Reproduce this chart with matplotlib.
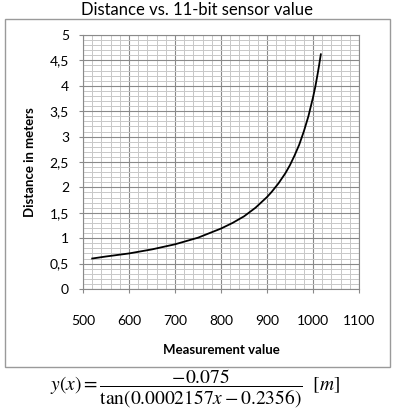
import matplotlib
matplotlib.use("Agg")
import matplotlib.pyplot as plt
from matplotlib.patches import Rectangle
from matplotlib.ticker import MultipleLocator, FuncFormatter

plt.rcParams['font.family'] = ['Lato', 'DejaVu Sans']
plt.rcParams['mathtext.fontset'] = 'stix'

# values
measurement = [520, 550, 600, 650, 700, 750, 800, 825, 850, 875, 900, 910,
               925, 940, 950, 960, 970, 980, 990, 1000, 1005, 1010, 1013, 1017]
distance = [0.60, 0.64, 0.70, 0.78, 0.88, 1.01, 1.19, 1.30, 1.43, 1.60,
            1.81, 1.91, 2.08, 2.28, 2.44, 2.63, 2.84, 3.10, 3.40, 3.77,
            3.98, 4.23, 4.39, 4.62]

title = "Distance vs. 11-bit sensor value"
xlabel = "Measurement value"
ylabel = "Distance in meters"
formula = r"$y(x)=\dfrac{-0.075}{\tan(0.0002157x-0.2356)}\ \ [m]$"

W, H = 394, 412
fig = plt.figure(figsize=(W / 100, H / 100), dpi=100)
ax = fig.add_axes([83 / W, 1 - 289 / H, 276 / W, 254 / H])

# outer chart border (Excel style)
fig.patches.append(Rectangle((5 / W, 1 - 367 / H), 385 / W, 348 / H,
                             transform=fig.transFigure, fill=False,
                             edgecolor="#9a9a9a", linewidth=1.0))

ax.plot(measurement, distance, color="black", linewidth=1.3, zorder=3)

ax.set_xlim(500, 1100)
ax.set_ylim(0, 5)
ax.xaxis.set_major_locator(MultipleLocator(100))
ax.xaxis.set_minor_locator(MultipleLocator(20))
ax.yaxis.set_major_locator(MultipleLocator(0.5))
ax.yaxis.set_minor_locator(MultipleLocator(0.1))
ax.yaxis.set_major_formatter(FuncFormatter(lambda v, p: f"{v:g}".replace(".", ",")))

ax.grid(which="major", color="#8a8a8a", linewidth=0.8)
ax.grid(which="minor", color="#c8c8c8", linewidth=0.7)
ax.set_axisbelow(True)
for s in ax.spines.values():
    s.set_color("#8a8a8a")
    s.set_linewidth(0.8)

ax.tick_params(which="major", length=3, color="#8a8a8a", labelsize=10)
ax.tick_params(which="minor", length=0)
ax.tick_params(axis="x", pad=16)
ax.tick_params(axis="y", pad=7)

ax.set_xlabel(xlabel, fontsize=9.5, fontweight="bold", labelpad=12)
ax.set_ylabel(ylabel, fontsize=9.5, fontweight="bold", labelpad=10)

fig.text(197 / W, 1 - 10 / H, title, ha="center", va="center", fontsize=12)
fig.text(195 / W, 1 - 389 / H, formula, ha="center", va="center", fontsize=14)

fig.savefig("out.png", dpi=100)
